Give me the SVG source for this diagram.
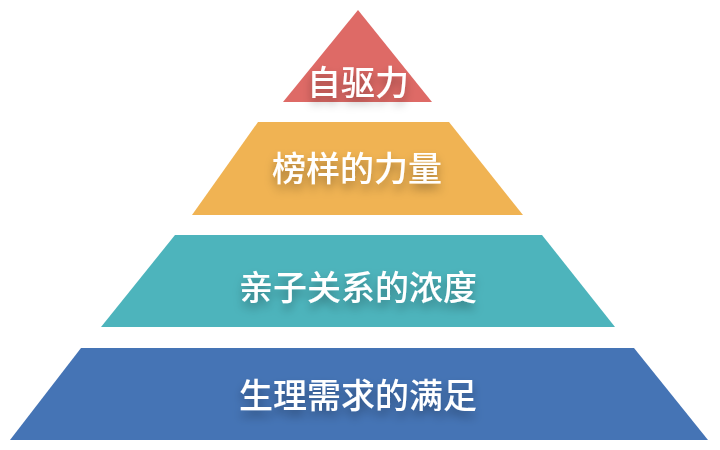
<svg xmlns="http://www.w3.org/2000/svg" width="720" height="450" viewBox="0 0 720 450">
<defs>
<style>
.lbl{font-family:"Noto Sans CJK SC","Noto Sans",sans-serif;font-size:34px;font-weight:500;fill:#ffffff;text-anchor:middle;filter:url(#sh)}
</style>
<filter id="sh" x="-20%" y="-40%" width="140%" height="200%">
<feDropShadow dx="0" dy="6" stdDeviation="5" flood-color="#000000" flood-opacity="0.32"/>
</filter>
</defs>
<rect width="720" height="450" fill="#ffffff"/>
<g id="level1">
<polygon points="358,10 432,102 283,102" fill="#DE6A66"/>
<text class="lbl" x="358" y="95">自驱力</text>
</g>
<g id="level2">
<polygon points="258,122 449,122 523,215 192,215" fill="#F0B353"/>
<text class="lbl" x="357" y="181">榜样的力量</text>
</g>
<g id="level3">
<polygon points="175,235 542,235 615,327 101,327" fill="#4DB4BC"/>
<text class="lbl" x="358" y="300">亲子关系的浓度</text>
</g>
<g id="level4">
<polygon points="81,348 634,348 708,440 10,440" fill="#4574B5"/>
<text class="lbl" x="358" y="408">生理需求的满足</text>
</g>
<g id="connectors"></g>
</svg>
